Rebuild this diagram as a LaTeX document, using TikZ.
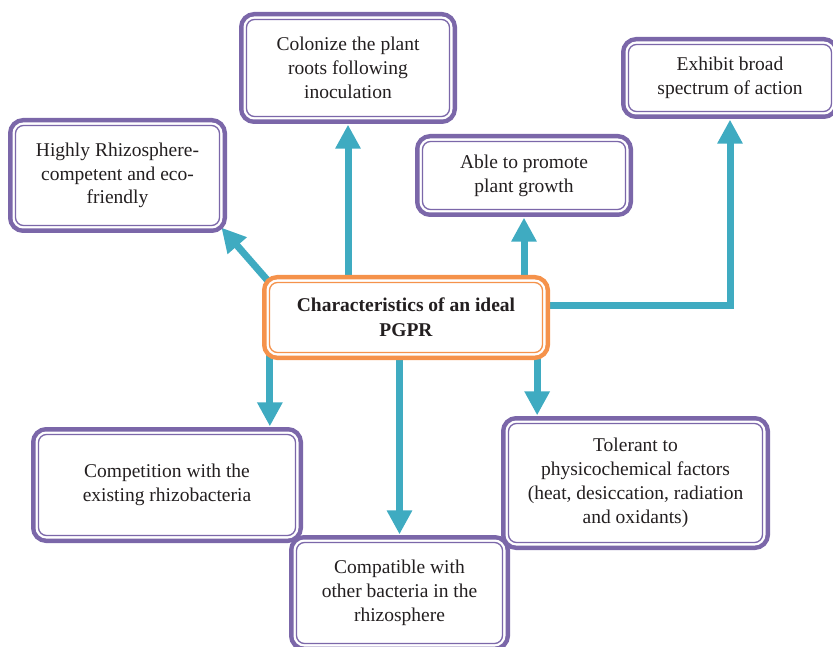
\documentclass[tikz,border=0pt]{standalone}
\usepackage{fontspec}
\setmainfont{Liberation Serif}
\usetikzlibrary{arrows.meta,backgrounds,calc}
\definecolor{framepurple}{HTML}{7B67A9}
\definecolor{linkteal}{HTML}{3FABC1}
\definecolor{hubor}{HTML}{F5924B}
\definecolor{inktext}{HTML}{231F20}
\begin{document}
\begin{tikzpicture}[x=1pt,y=-1pt,
  frame/.style={rounded corners=8pt, fill=white, draw=#1, line width=1.3pt,
    preaction={draw=#1, line width=15pt},
    preaction={draw=white, line width=6pt}},
  card/.style={frame=framepurple, inner sep=0pt, align=center, text=inktext,
    font=\fontsize{19.5}{23.8}\selectfont},
  hubbox/.style={frame=hubor, inner sep=0pt, align=center, text=inktext,
    font=\fontsize{19.5}{25}\selectfont\bfseries},
  link/.style={draw=linkteal, line width=7pt,
    -{Triangle[width=24pt,length=24pt]}, shorten >=7.5pt}
]
\useasboundingbox (0,0) rectangle (833,647);

% central hub
\node[hubbox, minimum width=273pt, minimum height=70pt] (hub) at (406,317.5)
  {Characteristics of an ideal\\PGPR};

% characteristic cards
\node[card, minimum width=203pt, minimum height=97pt] (colo) at (348,68)
  {Colonize the plant\\roots following\\inoculation};
\node[card, minimum width=204pt, minimum height=100pt] (hi) at (117.5,175.5)
  {Highly Rhizosphere-\\competent and eco-\\friendly};
\node[card, minimum width=203pt, minimum height=67pt] (exh) at (730,78)
  {Exhibit broad\\spectrum of action};
\node[card, minimum width=203pt, minimum height=68pt] (able) at (524,175.5)
  {Able to promote\\plant growth};
\node[card, minimum width=257pt, minimum height=101pt] (comp) at (167,485)
  {Competition with the\\existing rhizobacteria};
\node[card, minimum width=206pt, minimum height=101pt] (compat) at (399.5,593)
  {Compatible with\\other bacteria in the\\rhizosphere};
\node[card, minimum width=254pt, minimum height=119pt] (tol) at (635.5,483)
  {Tolerant to\\physicochemical factors\\(heat, desiccation, radiation\\and oxidants)};

% connectors, kept behind the frames
\begin{scope}[on background layer]
  \coordinate (estart) at ($(hub.east)+(0,-12.5)$);
  \coordinate (cstart) at ($(hub.south west)+(1,0)$);
  \coordinate (tstart) at ($(hub.south east)+(-6,0)$);
  \draw[link] (hub.north -| colo.south) -- (colo.south);
  \draw[link] (hub.north -| able.south) -- (able.south);
  \draw[link] (estart) -| (exh.south);
  \draw[link, shorten >=2pt] (hub.north west) -- (hi.south east);
  \draw[link] (cstart) -- (cstart |- comp.north);
  \draw[link] (hub.south -| compat.north) -- (compat.north);
  \draw[link] (tstart) -- (tstart |- tol.north);
\end{scope}
\end{tikzpicture}
\end{document}
